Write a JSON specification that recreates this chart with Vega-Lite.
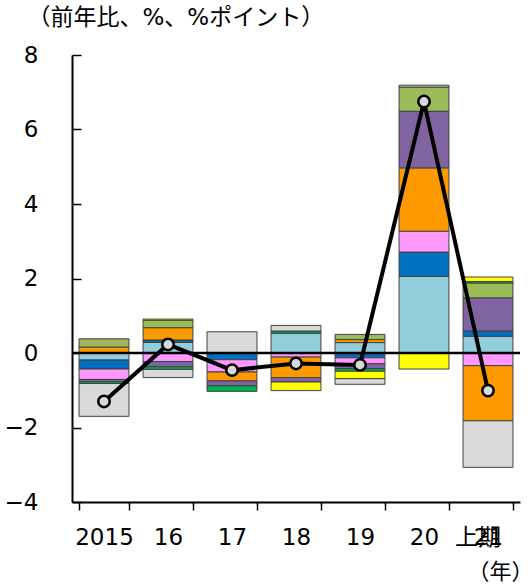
{
  "$schema": "https://vega.github.io/schema/vega-lite/v6.json",
  "width": 448,
  "height": 447,
  "autosize": "none",
  "padding": {"left": 72, "top": 55, "right": 12, "bottom": 83},
  "background": "white",
  "config": {
    "view": {"stroke": null},
    "font": "DejaVu Sans, Noto Sans CJK JP",
    "axis": {
      "domainColor": "black",
      "domainWidth": 2,
      "tickColor": "black",
      "tickWidth": 1.5,
      "labelColor": "black",
      "titleColor": "black",
      "titleFontWeight": "normal",
      "grid": false
    }
  },
  "datasets": {
    "bars": [
      {"year": "2015", "series": "系列1", "value": -0.19},
      {"year": "2015", "series": "系列2", "value": -0.24},
      {"year": "2015", "series": "系列3", "value": -0.28},
      {"year": "2015", "series": "系列4", "value": 0.16},
      {"year": "2015", "series": "系列5", "value": -0.06},
      {"year": "2015", "series": "系列6", "value": 0.22},
      {"year": "2015", "series": "系列7", "value": -0.05},
      {"year": "2015", "series": "系列9", "value": -0.88},

      {"year": "16", "series": "系列1", "value": 0.285},
      {"year": "16", "series": "系列2", "value": 0.065},
      {"year": "16", "series": "系列3", "value": -0.23},
      {"year": "16", "series": "系列4", "value": 0.33},
      {"year": "16", "series": "系列5", "value": -0.14},
      {"year": "16", "series": "系列6", "value": 0.2},
      {"year": "16", "series": "系列7", "value": -0.07},
      {"year": "16", "series": "系列8", "value": 0.03},
      {"year": "16", "series": "系列9", "value": -0.22},

      {"year": "17", "series": "系列2", "value": -0.18},
      {"year": "17", "series": "系列3", "value": -0.33},
      {"year": "17", "series": "系列4", "value": -0.24},
      {"year": "17", "series": "系列5", "value": -0.13},
      {"year": "17", "series": "系列7", "value": -0.15},
      {"year": "17", "series": "系列9", "value": 0.57},

      {"year": "18", "series": "系列1", "value": 0.53},
      {"year": "18", "series": "系列3", "value": -0.11},
      {"year": "18", "series": "系列4", "value": -0.55},
      {"year": "18", "series": "系列5", "value": -0.12},
      {"year": "18", "series": "系列7", "value": 0.06},
      {"year": "18", "series": "系列8", "value": -0.23},
      {"year": "18", "series": "系列9", "value": 0.15},

      {"year": "19", "series": "系列1", "value": 0.28},
      {"year": "19", "series": "系列2", "value": -0.13},
      {"year": "19", "series": "系列3", "value": -0.16},
      {"year": "19", "series": "系列4", "value": 0.08},
      {"year": "19", "series": "系列5", "value": -0.13},
      {"year": "19", "series": "系列6", "value": 0.14},
      {"year": "19", "series": "系列7", "value": -0.07},
      {"year": "19", "series": "系列8", "value": -0.2},
      {"year": "19", "series": "系列9", "value": -0.15},

      {"year": "20", "series": "系列1", "value": 2.06},
      {"year": "20", "series": "系列2", "value": 0.65},
      {"year": "20", "series": "系列3", "value": 0.56},
      {"year": "20", "series": "系列4", "value": 1.7},
      {"year": "20", "series": "系列5", "value": 1.52},
      {"year": "20", "series": "系列6", "value": 0.65},
      {"year": "20", "series": "系列8", "value": -0.43},
      {"year": "20", "series": "系列9", "value": 0.05},

      {"year": "21上期", "series": "系列1", "value": 0.45},
      {"year": "21上期", "series": "系列2", "value": 0.14},
      {"year": "21上期", "series": "系列3", "value": -0.34},
      {"year": "21上期", "series": "系列4", "value": -1.48},
      {"year": "21上期", "series": "系列5", "value": 0.89},
      {"year": "21上期", "series": "系列6", "value": 0.4},
      {"year": "21上期", "series": "系列7", "value": 0.04},
      {"year": "21上期", "series": "系列8", "value": 0.12},
      {"year": "21上期", "series": "系列9", "value": -1.25}
    ],
    "total": [
      {"year": "2015", "value": -1.3},
      {"year": "16", "value": 0.23},
      {"year": "17", "value": -0.46},
      {"year": "18", "value": -0.28},
      {"year": "19", "value": -0.32},
      {"year": "20", "value": 6.75},
      {"year": "21上期", "value": -1.01}
    ],
    "baseline": [{"level": 0}]
  },
  "resolve": {"axis": {"x": "independent"}},
  "layer": [
    {
      "data": {"name": "bars"},
      "mark": {"type": "bar", "stroke": "#404040", "strokeWidth": 1},
      "encoding": {
        "x": {
          "field": "year",
          "type": "nominal",
          "sort": null,
          "scale": {"paddingInner": 0.22, "paddingOuter": 0.11},
          "axis": {
            "orient": "bottom",
            "labelAngle": 0,
            "labelFontSize": 23,
            "labelPadding": 16,
            "tickSize": 8,
            "tickBand": "extent",
            "labelExpr": "datum.value == '21上期' ? '21' : datum.value",
            "title": "（年）",
            "titleFontSize": 22,
            "titleAlign": "right",
            "titleBaseline": "bottom",
            "titleAnchor": null,
            "titleX": 461,
            "titleY": 81
          }
        },
        "y": {
          "field": "value",
          "type": "quantitative",
          "stack": "zero",
          "scale": {"domain": [-4, 8], "nice": false, "zero": false},
          "axis": {
            "values": [-4, -2, 0, 2, 4, 6, 8],
            "labelFontSize": 23,
            "tickSize": -9,
            "labelPadding": 43,
            "title": "（前年比、%、%ポイント）",
            "titleFontSize": 23,
            "titleAngle": 0,
            "titleAlign": "left",
            "titleBaseline": "top",
            "titleX": -45,
            "titleY": -49
          }
        },
        "color": {
          "field": "series",
          "type": "nominal",
          "scale": {
            "domain": ["系列1", "系列2", "系列3", "系列4", "系列5", "系列6", "系列7", "系列8", "系列9"],
            "range": ["#92CDDC", "#0070C0", "#FF99FF", "#FF9900", "#8064A2", "#9BBB59", "#00B050", "#FFFF00", "#D9D9D9"]
          },
          "legend": null
        },
        "order": {"field": "series", "sort": "ascending"}
      }
    },
    {
      "data": {"name": "baseline"},
      "mark": {"type": "rule", "color": "black", "strokeWidth": 2.5},
      "encoding": {
        "y": {"field": "level", "type": "quantitative"}
      }
    },
    {
      "data": {"name": "total"},
      "mark": {"type": "line", "color": "black", "strokeWidth": 4},
      "encoding": {
        "x": {
          "field": "year",
          "type": "nominal",
          "sort": null,
          "axis": {
            "orient": "bottom",
            "domain": false,
            "ticks": false,
            "tickSize": 0,
            "labelAngle": 0,
            "labelFontSize": 23,
            "labelPadding": 24,
            "labelOffset": -10,
            "labelExpr": "datum.value == '21上期' ? '上期' : ''",
            "title": null
          }
        },
        "y": {"field": "value", "type": "quantitative"}
      }
    },
    {
      "data": {"name": "total"},
      "mark": {"type": "point", "shape": "circle", "filled": true, "fill": "#D9D9D9", "stroke": "black", "strokeWidth": 2.5, "size": 130, "opacity": 1},
      "encoding": {
        "x": {"field": "year", "type": "nominal", "sort": null, "axis": null},
        "y": {"field": "value", "type": "quantitative"}
      }
    }
  ]
}
